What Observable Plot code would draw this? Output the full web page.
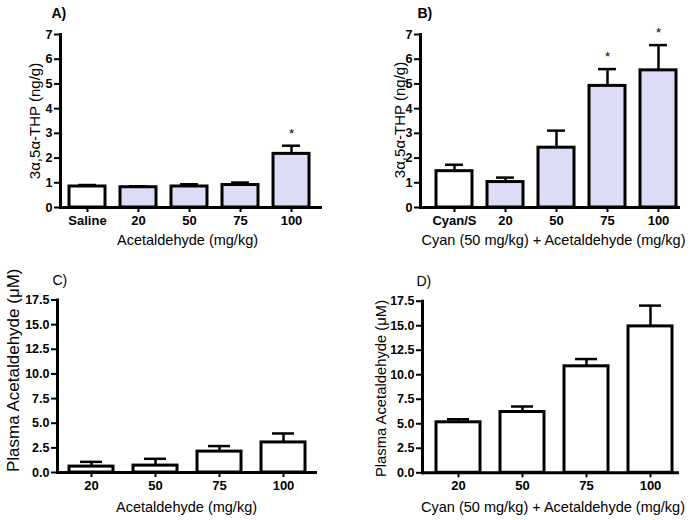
<!DOCTYPE html>
<html>
<head>
<meta charset="utf-8">
<script src="https://cdn.jsdelivr.net/npm/d3@7"></script>
<script src="https://cdn.jsdelivr.net/npm/@observablehq/plot@0.6"></script>
<style>
  html, body { margin: 0; padding: 0; background: #fff; }
  #root { position: relative; width: 695px; height: 520px; background: #fff; overflow: hidden; }
  .panel { position: absolute; }
</style>
</head>
<body>
<div id="root"></div>
<script>
// ---------- data ----------
const catsA = ["Saline", "20", "50", "75", "100"];
const meanA = [0.85, 0.82, 0.85, 0.91, 2.17];
const semA  = [0.06, 0.04, 0.09, 0.10, 0.33];
const sigA  = [false, false, false, false, true];
const groupA = ["control", "treated", "treated", "treated", "treated"];

const catsB = ["Cyan/S", "20", "50", "75", "100"];
const meanB = [1.47, 1.03, 2.42, 4.92, 5.55];
const semB  = [0.26, 0.18, 0.69, 0.68, 1.02];
const sigB  = [false, false, false, true, true];
const groupB = ["control", "treated", "treated", "treated", "treated"];

const catsC = ["20", "50", "75", "100"];
const meanC = [0.60, 0.70, 2.12, 3.05];
const semC  = [0.48, 0.69, 0.56, 0.91];
const sigC  = [false, false, false, false];
const groupC = ["control", "control", "control", "control"];

const catsD = ["20", "50", "75", "100"];
const meanD = [5.15, 6.20, 10.86, 14.93];
const semD  = [0.31, 0.56, 0.74, 2.12];
const sigD  = [false, false, false, false];
const groupD = ["control", "control", "control", "control"];

const ticksTop = [0, 1, 2, 3, 4, 5, 6, 7];
const ticksBottom = [0, 2.5, 5, 7.5, 10, 12.5, 15, 17.5];

const titleXA = "Acetaldehyde (mg/kg)";
const titleXB = "Cyan (50 mg/kg) + Acetaldehyde (mg/kg)";
const titleYTop = "3\u03b1,5\u03b1-THP (ng/g)";
const titleYBottom = "Plasma Acetaldehyde (\u03bcM)";

// ---------- drawing ----------
function panel(o) {
  const data = o.cats.map((c, i) => ({
    cat: c, mean: o.mean[i], top: o.mean[i] + o.sem[i], sig: o.sig[i], group: o.group[i]
  }));
  const frameW = o.width - o.ml - o.mr;
  const n = o.cats.length;
  const step = frameW / (n - o.pi + 2 * o.po);
  const bw = step * (1 - o.pi);
  const fontNorm = {fontWeight: "normal"};
  return Plot.plot({
    width: o.width, height: o.height,
    marginLeft: o.ml, marginRight: o.mr, marginTop: o.mt, marginBottom: o.mb,
    style: {fontFamily: "'Liberation Sans', Arial, sans-serif", fontSize: "12px", fontWeight: "bold",
            color: "black", background: "transparent", overflow: "visible"},
    x: {domain: o.cats, paddingInner: o.pi, paddingOuter: o.po, align: o.align},
    y: {domain: [0, o.yMax]},
    color: {domain: ["control", "treated"], range: ["#ffffff", "#dcdcf7"]},
    marks: [
      Plot.ruleX(data, {x: "cat", y1: "mean", y2: "top", stroke: "black", strokeWidth: 2.5}),
      Plot.tickY(data, {x: "cat", y: "top", stroke: "black", strokeWidth: 2.5, insetLeft: bw / 4, insetRight: bw / 4}),
      Plot.barY(data, {x: "cat", y: "mean", fill: "group", stroke: "black", strokeWidth: 3}),
      Plot.text(data.filter(d => d.sig), {x: "cat", y: "top", text: () => "*", dy: -12, fontSize: 13, ...fontNorm}),
      Plot.axisY({ticks: o.yTicks, tickFormat: o.yFmt, tickSize: 6, tickPadding: 2, strokeWidth: 2, label: null, fontSize: 12.5}),
      Plot.axisX({tickSize: 5, tickPadding: 3, strokeWidth: 2, label: null, fontSize: 13}),
      Plot.ruleY([0], {stroke: "black", strokeWidth: 3}),
      Plot.frame({anchor: "left", stroke: "black", strokeWidth: 3}),
      Plot.text([o.letter], {text: d => d, frameAnchor: "top-left", textAnchor: "start", lineAnchor: "middle",
        dx: o.letterDx, dy: o.letterDy, fontSize: 14, fontWeight: o.letterBold ? "bold" : "normal"}),
      Plot.text([o.xTitle], {text: d => d, frameAnchor: "bottom", textAnchor: "middle", lineAnchor: "middle",
        dx: o.xTitleDx, dy: o.xTitleDy, fontSize: 14.5, ...fontNorm}),
      Plot.text([o.yTitle], {text: d => d, frameAnchor: "left", textAnchor: "middle", lineAnchor: "middle",
        rotate: -90, dx: o.yTitleDx, dy: o.yTitleDy, fontSize: o.yTitleSize, ...fontNorm})
    ]
  });
}

const fmtInt = d3.format("d");
const fmt1 = d3.format(".1f");

const specs = [
  {left: 0, top: 0, width: 347, height: 250, ml: 60, mr: 25, mt: 34, mb: 43, pi: 0.3, po: 0.18, align: 0.42,
   cats: catsA, mean: meanA, sem: semA, sig: sigA, group: groupA, yMax: 7, yTicks: ticksTop, yFmt: fmtInt,
   letter: "A)", letterBold: true, letterDx: -9, letterDy: -21, xTitle: titleXA, xTitleDx: -4, xTitleDy: 33,
   yTitle: titleYTop, yTitleDx: -25, yTitleDy: 0, yTitleSize: 15},
  {left: 345, top: 0, width: 350, height: 250, ml: 75, mr: 15, mt: 34, mb: 43, pi: 0.3, po: 0.164, align: 0.78,
   cats: catsB, mean: meanB, sem: semB, sig: sigB, group: groupB, yMax: 7, yTicks: ticksTop, yFmt: fmtInt,
   letter: "B)", letterBold: true, letterDx: -3, letterDy: -21, xTitle: titleXB, xTitleDx: 3, xTitleDy: 33,
   yTitle: titleYTop, yTitleDx: -20, yTitleDy: -1, yTitleSize: 15},
  {left: 0, top: 255, width: 345, height: 265, ml: 57, mr: 28, mt: 44.5, mb: 48, pi: 0.32, po: 0.163, align: 0.5,
   cats: catsC, mean: meanC, sem: semC, sig: sigC, group: groupC, yMax: 17.5, yTicks: ticksBottom, yFmt: fmt1,
   letter: "C)", letterBold: false, letterDx: -5, letterDy: -19.5, xTitle: titleXA, xTitleDx: -1, xTitleDy: 35,
   yTitle: titleYBottom, yTitleDx: -44, yTitleDy: -16, yTitleSize: 17},
  {left: 345, top: 255, width: 350, height: 265, ml: 77, mr: 16, mt: 45.7, mb: 47.7, pi: 0.32, po: 0.15, align: 0.67,
   cats: catsD, mean: meanD, sem: semD, sig: sigD, group: groupD, yMax: 17.5, yTicks: ticksBottom, yFmt: fmt1,
   letter: "D)", letterBold: false, letterDx: -6, letterDy: -19.5, xTitle: titleXB, xTitleDx: 2, xTitleDy: 35,
   yTitle: titleYBottom, yTitleDx: -41, yTitleDy: 1.5, yTitleSize: 14.8}
];

const root = document.getElementById("root");
for (const s of specs) {
  const div = document.createElement("div");
  div.className = "panel";
  div.style.left = s.left + "px";
  div.style.top = s.top + "px";
  div.appendChild(panel(s));
  root.appendChild(div);
}
</script>
</body>
</html>
